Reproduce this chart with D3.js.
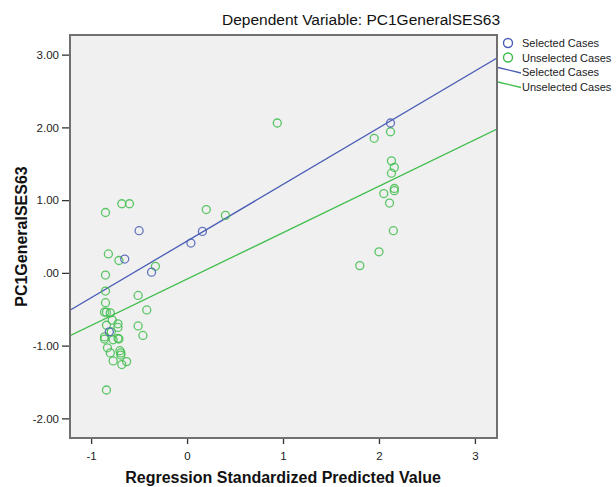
<!DOCTYPE html>
<html>
<head>
<meta charset="utf-8">
<script src="https://cdn.jsdelivr.net/npm/d3@7"></script>
<style>
  body { margin: 0; background: #fff; }
  text { font-family: Arial, "Liberation Sans", sans-serif; }
</style>
</head>
<body>
<div id="chart"></div>
<script>
// Selected cases (x = standardized predicted, y = PC1GeneralSES63)
var selX = [-0.50, -0.65, -0.37, 0.04, 0.16, 2.12, -0.81];
var selY = [0.58, 0.19, 0.01, 0.41, 0.57, 2.06, -0.81];

// Unselected cases
var unselX = [-0.68, -0.60, -0.85, -0.82, -0.71, -0.33, -0.85, 0.20, 0.40, 0.94,
  -0.85, -0.51, -0.85, -0.42, -0.86, -0.84, -0.80, -0.78, -0.84, -0.72,
  -0.72, -0.51, -0.46, -0.86, -0.86, -0.77, -0.72, -0.71, -0.83, -0.80,
  -0.70, -0.69, -0.69, -0.77, -0.63, -0.68, -0.84, -0.79,
  2.12, 1.95, 2.13, 2.16, 2.13, 2.16, 2.16, 2.05, 2.11, 2.15, 2.00, 1.80];
var unselY = [0.95, 0.95, 0.83, 0.26, 0.17, 0.09, -0.03, 0.87, 0.79, 2.06,
  -0.25, -0.31, -0.41, -0.51, -0.54, -0.54, -0.55, -0.65, -0.72, -0.70,
  -0.75, -0.73, -0.86, -0.88, -0.91, -0.92, -0.90, -0.91, -1.03, -1.10,
  -1.07, -1.10, -1.13, -1.21, -1.22, -1.26, -1.61, -0.81,
  1.94, 1.85, 1.54, 1.45, 1.37, 1.16, 1.13, 1.09, 0.96, 0.58, 0.29, 0.10];

// fit lines: intercept, slope
var selFit = [0.437, 0.779];
var unselFit = [-0.085, 0.638];

var xTicks = [-1, 0, 1, 2, 3];
var yTicks = [-2, -1, 0, 1, 2, 3];
var legendLabels = ['Selected Cases', 'Unselected Cases', 'Selected Cases', 'Unselected Cases'];

var blue = '#4a5db5';
var green = '#3fbd4c';

var chartWidth = 616;
var chartHeight = 487;
var plot = { left: 70, right: 497, top: 35, bottom: 438 };

var svg = d3.select('#chart')
    .append('svg')
    .attr('width', chartWidth)
    .attr('height', chartHeight);

var scaleX = d3.scaleLinear()
    .domain([-1.22, 3.23])
    .range([plot.left, plot.right]);
var scaleY = d3.scaleLinear()
    .domain([-2.27, 3.27])
    .range([plot.bottom, plot.top]);

// plot background
svg.append('rect')
    .attr('x', plot.left)
    .attr('y', plot.top)
    .attr('width', plot.right - plot.left)
    .attr('height', plot.bottom - plot.top)
    .attr('fill', '#f0f0f0');

svg.append('clipPath')
    .attr('id', 'clip')
    .append('rect')
    .attr('x', plot.left)
    .attr('y', plot.top)
    .attr('width', plot.right - plot.left)
    .attr('height', plot.bottom - plot.top);

// Axis (SPSS style labels: "-1", ".00", "-1.00")
var fmtY = function(d) {
  return d.toFixed(2).replace(/^0\./, '.');
};
var fmtX = function(d) {
  return String(d);
};
var axisX = d3.axisBottom(scaleX).tickValues(xTicks).tickFormat(fmtX).tickSize(6).tickSizeOuter(0);
var gx = svg.append('g')
    .attr('transform', 'translate(0,' + plot.bottom + ')')
    .call(axisX);
var axisY = d3.axisLeft(scaleY).tickValues(yTicks).tickFormat(fmtY).tickSize(8).tickSizeOuter(0);
var gy = svg.append('g')
    .attr('transform', 'translate(' + plot.left + ',0)')
    .call(axisY);
[gx, gy].forEach(function(g) {
  g.select('.domain').remove();
  g.selectAll('.tick line').attr('stroke', '#333').attr('stroke-width', 1.3);
  g.selectAll('.tick text')
      .attr('fill', '#222')
      .style('font-size', '11.5px')
      .style('font-family', 'Arial, "Liberation Sans", sans-serif');
});
gx.selectAll('.tick text').attr('dy', '1.1em');

// fit lines
var gLines = svg.append('g').attr('clip-path', 'url(#clip)');
[[selFit, blue], [unselFit, green]].forEach(function(f) {
  var x0 = scaleX.domain()[0];
  var x1 = scaleX.domain()[1];
  gLines.append('line')
      .attr('x1', scaleX(x0))
      .attr('y1', scaleY(f[0][0] + f[0][1] * x0))
      .attr('x2', scaleX(x1))
      .attr('y2', scaleY(f[0][0] + f[0][1] * x1))
      .attr('stroke', f[1])
      .attr('stroke-width', 1.3);
});

// points
var gPts = svg.append('g').attr('clip-path', 'url(#clip)');
gPts.selectAll('circle.unsel')
    .data(unselX)
    .enter()
    .append('circle')
    .attr('class', 'unsel')
    .attr('cx', function(d) { return scaleX(d); })
    .attr('cy', function(d, i) { return scaleY(unselY[i]); })
    .attr('r', 4)
    .attr('fill', 'none')
    .attr('stroke', green)
    .attr('stroke-opacity', 0.85)
    .attr('stroke-width', 1.3);
gPts.selectAll('circle.sel')
    .data(selX)
    .enter()
    .append('circle')
    .attr('class', 'sel')
    .attr('cx', function(d) { return scaleX(d); })
    .attr('cy', function(d, i) { return scaleY(selY[i]); })
    .attr('r', 4)
    .attr('fill', 'none')
    .attr('stroke', blue)
    .attr('stroke-opacity', 0.85)
    .attr('stroke-width', 1.3);

// frame
svg.append('rect')
    .attr('x', plot.left)
    .attr('y', plot.top)
    .attr('width', plot.right - plot.left)
    .attr('height', plot.bottom - plot.top)
    .attr('fill', 'none')
    .attr('stroke', '#707070')
    .attr('stroke-width', 2);

// Title & axis labels
svg.append('text')
    .attr('x', 361)
    .attr('y', 25)
    .attr('text-anchor', 'middle')
    .attr('font-size', 15.5)
    .attr('fill', '#111')
    .text('Dependent Variable: PC1GeneralSES63');

svg.append('text')
    .attr('x', 283)
    .attr('y', 483)
    .attr('text-anchor', 'middle')
    .attr('font-size', 16)
    .attr('font-weight', 'bold')
    .attr('fill', '#111')
    .text('Regression Standardized Predicted Value');

svg.append('text')
    .attr('transform', 'translate(27,' + (plot.top + plot.bottom) / 2 + ') rotate(-90)')
    .attr('text-anchor', 'middle')
    .attr('font-size', 16)
    .attr('font-weight', 'bold')
    .attr('fill', '#111')
    .text('PC1GeneralSES63');

// legend
var legend = svg.append('g');
var legendColors = [blue, green, blue, green];
legend.selectAll('text')
    .data(legendLabels)
    .enter()
    .append('text')
    .attr('x', 522)
    .attr('y', function(d, i) { return 47 + i * 14.5; })
    .attr('font-size', 11)
    .attr('fill', '#222')
    .text(function(d) { return d; });
legend.selectAll('circle')
    .data(legendLabels.slice(0, 2))
    .enter()
    .append('circle')
    .attr('cx', 508)
    .attr('cy', function(d, i) { return 43 + i * 14.5; })
    .attr('r', 4.5)
    .attr('fill', 'none')
    .attr('stroke', function(d, i) { return legendColors[i]; })
    .attr('stroke-width', 1.4);
legend.selectAll('line')
    .data(legendLabels.slice(2))
    .enter()
    .append('line')
    .attr('x1', 498)
    .attr('y1', function(d, i) { return 67.5 + i * 14.5; })
    .attr('x2', 521)
    .attr('y2', function(d, i) { return 73 + i * 14.5; })
    .attr('stroke', function(d, i) { return legendColors[i + 2]; })
    .attr('stroke-width', 1.3);
</script>
</body>
</html>
